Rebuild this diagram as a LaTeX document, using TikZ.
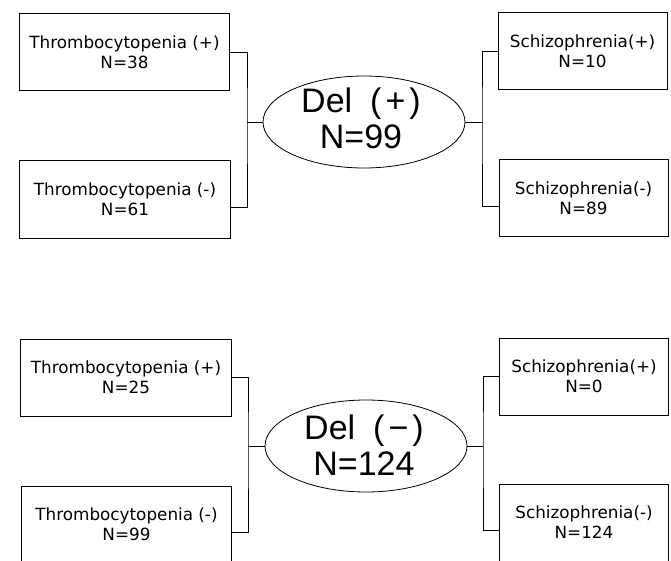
\documentclass[tikz,border=0pt]{standalone}
\usepackage{fontspec}
\setmainfont{DejaVu Sans}
\newfontfamily\ellfont{Liberation Sans}
\usetikzlibrary{shapes.geometric}
\begin{document}
\begin{tikzpicture}[x=1bp,y=-1bp,
  box/.style={draw, line width=1bp, rectangle, inner sep=0pt, align=center,
    font=\fontsize{16.8bp}{20bp}\selectfont},
  lbox/.style={box, minimum width=210bp, minimum height=77bp},
  rbox/.style={box, minimum width=169bp, minimum height=77bp},
  oval/.style={draw, line width=0.8bp, ellipse, inner sep=0pt,
    minimum width=202bp, minimum height=92bp},
  big/.style={align=center, inner sep=0pt,
    font=\ellfont\fontsize{34bp}{36bp}\selectfont},
  link/.style={line width=0.9bp}]
\useasboundingbox[fill=white] (0,0) rectangle (671,561);

% ---- upper group: deletion present ----
\node[oval] (e1) at (364,122) {};
\node[big] (t1) at (361,118) {Del\hspace{18bp}(\hspace{4bp}+\hspace{4bp})\hspace{16bp}\\N=99};

\node[lbox] (tp1) at (124.5,52.5) {Thrombocytopenia (+)\\N=38};
\node[lbox] (tm1) at (125,199.5) {Thrombocytopenia (-)\\N=61};
\node[rbox] (sp1) at (582.5,51) {Schizophrenia(+)\\N=10};
\node[rbox] (sm1) at (583.5,198) {Schizophrenia(-)\\N=89};

\coordinate (jl1) at (247,122);
\coordinate (jr1) at (482,122);
\draw[link] (tp1.east) -| (jl1) |- ([yshift=-8bp]tm1.east);
\draw[link] (jl1) -- (e1.west);
\draw[link] (sp1.west) -| (jr1) |- ([yshift=-8bp]sm1.west);
\draw[link] (e1.east) -- (jr1);

% ---- lower group: deletion absent ----
\node[oval] (e2) at (366,446) {};
\node[big] (t2) at (364,445) {Del\hspace{18bp}(\hspace{4bp}−\hspace{4bp})\hspace{16bp}\\N=124};

\node[lbox] (tp2) at (126,377.5) {Thrombocytopenia (+)\\N=25};
\node[lbox] (tm2) at (126.5,524.5) {Thrombocytopenia (-)\\N=99};
\node[rbox] (sp2) at (584,376.5) {Schizophrenia(+)\\N=0};
\node[rbox] (sm2) at (584,522.5) {Schizophrenia(-)\\N=124};

\coordinate (jl2) at (248,446);
\coordinate (jr2) at (483,446);
\draw[link] (tp2.east) -| (jl2) |- ([yshift=-8bp]tm2.east);
\draw[link] (jl2) -- (e2.west);
\draw[link] (sp2.west) -| (jr2) |- ([yshift=-8bp]sm2.west);
\draw[link] (e2.east) -- (jr2);
\end{tikzpicture}
\end{document}
